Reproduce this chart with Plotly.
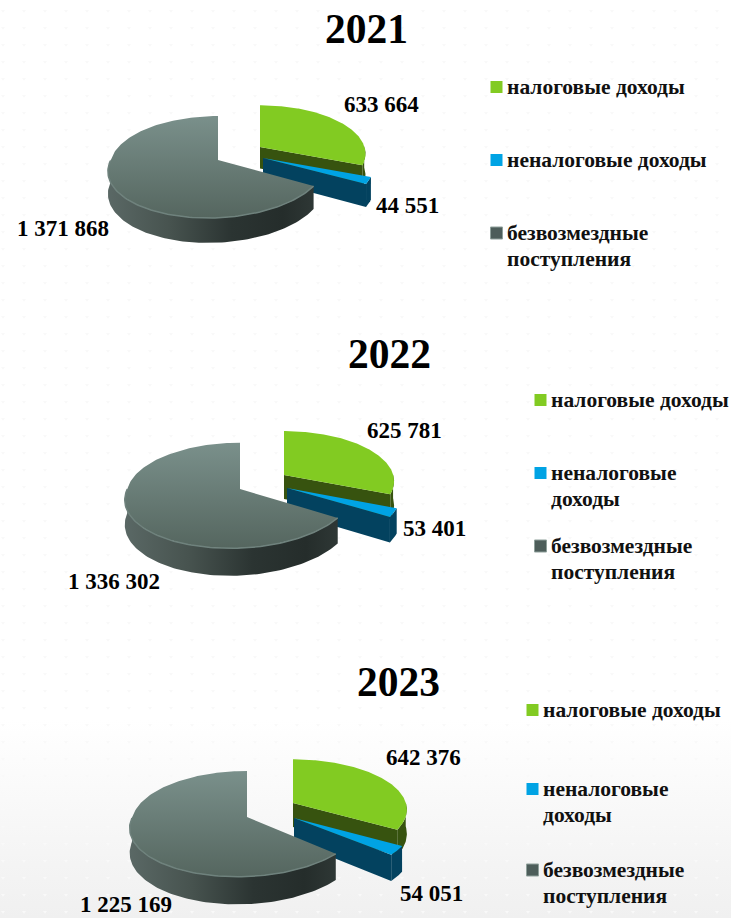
import numpy as np
import plotly.graph_objects as go

# ---------- data ----------
years = ["2021", "2022", "2023"]
tax_income = [633664, 625781, 642376]
nontax_income = [44551, 53401, 54051]
grants = [1371868, 1336302, 1225169]
value_labels = [["633 664", "44 551", "1 371 868"],
                ["625 781", "53 401", "1 336 302"],
                ["642 376", "54 051", "1 225 169"]]
legend_lines = [
    [["налоговые доходы"], ["неналоговые доходы"], ["безвозмездные", "поступления"]],
    [["налоговые доходы"], ["неналоговые", "доходы"], ["безвозмездные", "поступления"]],
    [["налоговые доходы"], ["неналоговые", "доходы"], ["безвозмездные", "поступления"]],
]

# ---------- layout of each panel (pixels) ----------
W, H = 731, 918
panels = [
    dict(rx=110, ry=50, p=.138, depth=21.5, fx=[.95, 1.0, .975], fy=[.95, 1.0, 1.0],
         apex=[(260, 147), (263, 158), (218, 160)],
         title=(366, 29),
         lab=[(381, 104), (407, 205), (63, 228)],
         leg_x=490, leg_y=[87, 160, 233]),
    dict(rx=115, ry=52, p=.124, depth=24, fx=[.95, .98, .98], fy=[.95, 1.0, 1.0],
         apex=[(284, 475), (287, 488), (240, 489)],
         title=(389, 354),
         lab=[(404, 430), (434, 528), (114, 581)],
         leg_x=534, leg_y=[400, 473, 546]),
    dict(rx=117, ry=52, p=.13, depth=24, fx=[.965, 1.0, .98], fy=[.95, 1.0, 1.0],
         apex=[(293, 803), (294, 818), (247, 817)],
         title=(398, 682),
         lab=[(423, 757), (431, 893), (126, 904)],
         leg_x=526, leg_y=[710, 789, 870]),
]
top_colors = ["#82cb22", "#00a3e4", None]
side_colors = ["#37530f", "#03425f", "#252d2b"]
FONT = "Liberation Serif"
SHEAR = 10  # front of the large slice leans left

fig = go.Figure()


def proj(theta, ax, ay, P, k, drop=0.0):
    u, v = np.sin(theta), -np.cos(theta)
    s = 1 / (1 - P["p"] * v)
    x = ax + P["rx"] * P["fx"][k] * u * s
    if k == 2:
        x = x - SHEAR * np.maximum(v, 0)
    return x, ay + P["ry"] * P["fy"][k] * v * s + P["depth"] * s * drop


def poly(xs, ys, color=None, grad=None):
    kw = dict(x=list(xs), y=list(ys), mode="lines", fill="toself",
              line=dict(width=0), hoverinfo="skip", showlegend=False)
    if color:
        kw["fillcolor"] = color
    if grad:
        kw["fillgradient"] = grad
    fig.add_trace(go.Scatter(**kw))


def vgrad(bottom, top):
    return dict(type="vertical", colorscale=[[0, bottom], [1, top]])


# page background: soft grey fade at the foot of the page
poly([0, W, W, 0], [720, 720, H, H], grad=vgrad("#f0f0f0", "#ffffff"))

# faint repeating wallpaper marks
gx, gy = np.meshgrid(np.arange(3, W, 21), np.arange(11, H, 17))
fig.add_trace(go.Scatter(x=gx.ravel(), y=gy.ravel(), mode="markers", hoverinfo="skip", showlegend=False,
                         marker=dict(symbol="triangle-down", size=3.5, color="#f9f9f9", line=dict(width=0))))

for i, P in enumerate(panels):
    vals = [tax_income[i], nontax_income[i], grants[i]]
    total = sum(vals)
    a0 = 0.0
    for k, val in enumerate(vals):
        a1 = a0 + val / total * 2 * np.pi
        ax, ay = P["apex"][k]
        th = np.linspace(a0, a1, 160)
        vis = th[(th > np.pi / 2 - .02) & (th < 3 * np.pi / 2 + .02)]
        # radial cut face at the end angle, visible for green and blue
        if k < 2:
            x1, y1 = proj(a1, ax, ay, P, k)
            x2, y2 = proj(a1, ax, ay, P, k, 1)
            poly([ax, x1, x2, ax], [ay, y1, y2, ay + P["depth"]], color=side_colors[k])
        # outer side wall
        if len(vis):
            xt, yt = proj(vis, ax, ay, P, k)
            xb, yb = proj(vis, ax, ay, P, k, 1)
            xs = np.r_[xt, xb[::-1]]
            ys = np.r_[yt, yb[::-1]]
            if k == 2:
                poly(xs, ys, grad=dict(type="horizontal",
                                       colorscale=[[0, "#5a6865"], [.3, "#47534f"], [.6, "#2b3432"],
                                                   [.85, "#252d2b"], [1, "#2e3735"]]))
            else:
                poly(xs, ys, color=side_colors[k])
        # top face
        xt, yt = proj(th, ax, ay, P, k)
        xs = np.r_[ax, xt, ax]
        ys = np.r_[ay, yt, ay]
        if k == 2:
            poly(xs, ys, grad=vgrad("#55665f", "#7a908b"))
            fr = th[(th > np.pi / 2) & (th < 3 * np.pi / 2)]
            xr, yr = proj(fr, ax, ay, P, k)
            fig.add_trace(go.Scatter(x=xr, y=yr, mode="lines", hoverinfo="skip", showlegend=False,
                                     line=dict(color="#6f827d", width=1.5)))
        else:
            poly(xs, ys, color=top_colors[k])
        a0 = a1

    fig.add_annotation(x=P["title"][0], y=P["title"][1], text=f"<b>{years[i]}</b>", showarrow=False,
                       font=dict(family=FONT, size=41.5, color="#000"))
    for k in range(3):
        fig.add_annotation(x=P["lab"][k][0], y=P["lab"][k][1], text=f"<b>{value_labels[i][k]}</b>",
                           showarrow=False, font=dict(family=FONT, size=23, color="#000"))
    for k in range(3):
        ly = P["leg_y"][k]
        swatch = ["#82cb22", "#00a3e4", "#4d5d5a"][k]
        fig.add_trace(go.Scatter(x=[P["leg_x"] + 6.5], y=[ly], mode="markers", hoverinfo="skip",
                                 showlegend=False,
                                 marker=dict(symbol="square", size=12, color=swatch,
                                             line=dict(width=1, color="#8fa09b") if k == 2 else dict(width=0))))
        for j, txt in enumerate(legend_lines[i][k]):
            fig.add_annotation(x=P["leg_x"] + 15, y=ly + j * 25.5, text=f"<b>{txt}</b>", showarrow=False,
                               xanchor="left", font=dict(family=FONT, size=21.5, color="#111"))

fig.update_layout(
    width=W, height=H, margin=dict(l=0, r=0, t=0, b=0), autosize=False,
    paper_bgcolor="#ffffff", plot_bgcolor="rgba(0,0,0,0)", showlegend=False,
    xaxis=dict(range=[0, W], visible=False, fixedrange=True),
    yaxis=dict(range=[H, 0], visible=False, fixedrange=True),
)
fig.write_html("out.html", config=dict(displayModeBar=False),
               post_script="document.body.style.margin='0';document.documentElement.style.overflow='hidden';")
